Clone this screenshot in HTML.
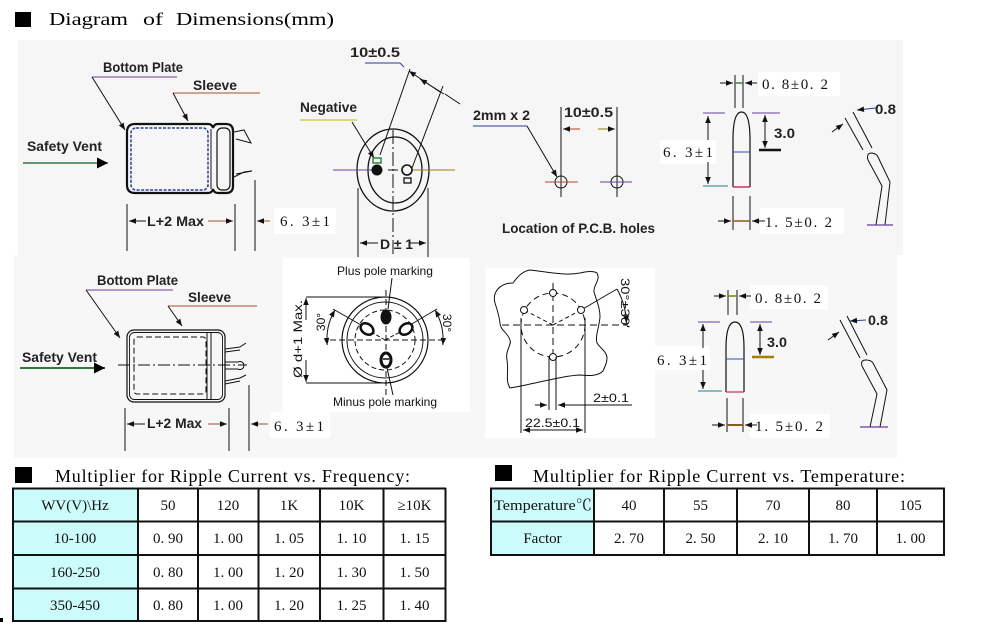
<!DOCTYPE html>
<html><head><meta charset="utf-8"><style>
html,body{margin:0;padding:0;background:#fff;}
svg{display:block}
.s{font-family:"Liberation Sans",Arial,sans-serif;font-weight:bold;font-size:14px;fill:#222}
.p{font-family:"Liberation Sans",Arial,sans-serif;font-size:12px;fill:#111}
.r{font-family:"Liberation Serif","Noto Serif CJK SC",serif;font-size:15px;fill:#111}
.t{font-family:"Liberation Serif","Noto Serif CJK SC",serif;font-size:15px;fill:#111;text-anchor:middle}
.h{font-family:"Liberation Serif","Noto Serif CJK SC",serif;font-size:18px;fill:#000}
</style></head><body>
<svg width="984" height="626" viewBox="0 0 984 626" xmlns="http://www.w3.org/2000/svg">
<defs>
<marker id="a" viewBox="0 0 10 10" refX="10" refY="5" markerWidth="8" markerHeight="7" orient="auto-start-reverse" markerUnits="userSpaceOnUse"><path d="M0,1L10,5L0,9z" fill="#111"/></marker>
<marker id="b" viewBox="0 0 10 10" refX="10" refY="5" markerWidth="11" markerHeight="11" orient="auto" markerUnits="userSpaceOnUse"><path d="M0,0L10,5L0,10z" fill="#000"/></marker>
</defs>

<!-- backgrounds -->
<rect x="18" y="40" width="885" height="215" fill="#f6f6f6"/>
<rect x="14" y="255" width="883" height="203" fill="#f7f7f7"/>
<rect x="283" y="258" width="187" height="154" fill="#fff"/>
<rect x="485" y="268" width="170" height="170" fill="#fff"/>
<rect x="274" y="208" width="62" height="26" fill="#fff"/>
<rect x="270" y="412" width="60" height="26" fill="#fff"/>
<rect x="758" y="72" width="82" height="24" fill="#fff"/>
<rect x="760" y="208" width="84" height="26" fill="#fff"/>
<rect x="660" y="140" width="56" height="24" fill="#fff"/>
<rect x="750" y="285" width="78" height="24" fill="#fff"/>
<rect x="750" y="414" width="80" height="24" fill="#fff"/>
<rect x="652" y="346" width="58" height="24" fill="#fff"/>

<!-- title -->
<rect x="15" y="12" width="16" height="15" fill="#000"/>
<text x="49" y="25" class="h" font-size="20" textLength="79" lengthAdjust="spacingAndGlyphs">Diagram</text>
<text x="143" y="25" class="h" font-size="20" textLength="20" lengthAdjust="spacingAndGlyphs">of</text>
<text x="176" y="25" class="h" font-size="20" textLength="158" lengthAdjust="spacingAndGlyphs">Dimensions(mm)</text>

<!-- ============ TOP LEFT CAPACITOR ============ -->
<g fill="none" stroke="#111">
<path d="M135,124 H208 Q212,124 213,128 Q214,124 218,124 H226 Q233,124 233,131 V186 Q233,193 226,193 H218 Q214,193 213,189 Q212,193 208,193 H135 Q127,193 127,185 V132 Q127,124 135,124 Z" stroke-width="2.2"/>
<rect x="131" y="128" width="77" height="62" rx="5" stroke="#2a3f90" stroke-width="1.5" stroke-dasharray="3 1.5"/>
<rect x="217" y="128" width="13" height="62" rx="5" stroke-width="1.2"/>
<line x1="211" y1="129" x2="211" y2="189" stroke-width="1"/>
<path d="M234,132 L244,130 L251,143 L236,139" stroke-width="1"/>
<path d="M234,177 L244,172 L252,171 L236,174" stroke-width="1"/>
<line x1="92" y1="77" x2="177" y2="77" stroke="#6a3d9a"/>
<line x1="92" y1="77" x2="125" y2="130" marker-end="url(#a)"/>
<line x1="173" y1="93" x2="260" y2="93" stroke="#a0522d"/>
<line x1="173" y1="93" x2="188" y2="121" marker-end="url(#a)"/>
<line x1="23" y1="163" x2="108" y2="163" stroke="#2a7a3a" stroke-width="1.5" marker-end="url(#b)"/>
<line x1="127" y1="204" x2="127" y2="251"/>
<line x1="235" y1="204" x2="235" y2="251"/>
<line x1="255" y1="180" x2="255" y2="251"/>
<line x1="146" y1="221" x2="129" y2="221" marker-end="url(#a)"/>
<line x1="208" y1="221" x2="233" y2="221" stroke="#a0522d" marker-end="url(#a)"/>
<line x1="270" y1="221" x2="257" y2="221" stroke="#a0522d" marker-end="url(#a)"/>
</g>
<text x="103" y="72" class="s" textLength="80" lengthAdjust="spacingAndGlyphs">Bottom Plate</text>
<text x="193" y="90" class="s" textLength="44" lengthAdjust="spacingAndGlyphs">Sleeve</text>
<text x="27" y="151" class="s" textLength="75" lengthAdjust="spacingAndGlyphs">Safety Vent</text>
<text x="147" y="226" class="s" textLength="57" lengthAdjust="spacingAndGlyphs">L+2 Max</text>
<text x="280" y="226" class="r" textLength="50" lengthAdjust="spacing">6. 3±1</text>

<!-- ============ TOP MIDDLE (end view) ============ -->
<g fill="none" stroke="#111">
<path d="M365,63 H400 L404,67" stroke="#2a3f90"/>
<line x1="440" y1="92" x2="409" y2="71" marker-end="url(#a)"/>
<line x1="460" y1="104" x2="445" y2="94"/>
<line x1="420" y1="79" x2="444" y2="94" marker-start="url(#a)"/>
<line x1="410" y1="69" x2="380" y2="155"/>
<line x1="443" y1="86" x2="412" y2="168"/>
<line x1="300" y1="120" x2="357" y2="120" stroke="#c8b400"/>
<line x1="352" y1="122" x2="374" y2="158" marker-end="url(#a)"/>
<ellipse cx="393" cy="170" rx="36" ry="41" stroke-width="1.3"/>
<ellipse cx="395" cy="170" rx="27" ry="33" stroke-width="1.3"/>
<line x1="333" y1="170" x2="372" y2="170" stroke="#6a3d9a"/>
<line x1="388" y1="170" x2="398" y2="170"/>
<line x1="412" y1="170" x2="455" y2="170" stroke="#a08000"/>
<line x1="393" y1="130" x2="393" y2="257" stroke-dasharray="14 3 2 3"/>
<circle cx="377" cy="170" r="5" fill="#111"/>
<rect x="373" y="158" width="8" height="5" stroke="#2a8a3a" stroke-width="1.5"/>
<circle cx="407" cy="170" r="5" stroke-width="1.6"/>
<rect x="404" y="178" width="7" height="5" stroke-width="1.3"/>
<line x1="358" y1="188" x2="358" y2="257"/>
<line x1="428" y1="188" x2="428" y2="257"/>
<line x1="378" y1="243" x2="360" y2="243" marker-end="url(#a)"/>
<line x1="410" y1="243" x2="426" y2="243" marker-end="url(#a)"/>
<!-- PCB holes -->
<path d="M473,126 H527" stroke="#2a3f90"/>
<line x1="527" y1="126" x2="557" y2="177" marker-end="url(#a)"/>
<line x1="561" y1="107" x2="561" y2="197"/>
<line x1="617" y1="107" x2="617" y2="197"/>
<line x1="580" y1="129" x2="563" y2="129" stroke="#c04020" marker-end="url(#a)"/>
<line x1="598" y1="129" x2="615" y2="129" stroke="#808000" marker-end="url(#a)"/>
<circle cx="561" cy="182" r="6"/>
<circle cx="617" cy="182" r="6"/>
<line x1="545" y1="182" x2="578" y2="182" stroke="#a05030"/>
<line x1="600" y1="182" x2="632" y2="182" stroke="#6a3d9a"/>
</g>
<text x="350" y="57" class="s" textLength="50" lengthAdjust="spacingAndGlyphs">10±0.5</text>
<text x="300" y="112" class="s" textLength="57" lengthAdjust="spacingAndGlyphs">Negative</text>
<text x="380" y="249" class="s" textLength="33" lengthAdjust="spacing">D±1</text>
<text x="473" y="120" class="s" textLength="57" lengthAdjust="spacingAndGlyphs">2mm x 2</text>
<text x="564" y="117" class="s" textLength="49" lengthAdjust="spacingAndGlyphs">10±0.5</text>
<text x="502" y="233" class="s" textLength="153" lengthAdjust="spacingAndGlyphs">Location of P.C.B. holes</text>

<!-- ============ TOP RIGHT (lead) ============ -->
<g fill="none" stroke="#111">
<line x1="735" y1="75" x2="735" y2="108"/>
<line x1="743" y1="75" x2="743" y2="108"/>
<line x1="720" y1="83" x2="733" y2="83" marker-end="url(#a)"/>
<line x1="757" y1="83" x2="745" y2="83" marker-end="url(#a)"/>
<line x1="735" y1="83" x2="743" y2="83" stroke="#2a8a3a" stroke-width="1.5"/>
<path d="M733,187 V140 Q733,112 741.5,112 Q750,112 750,140 V187" stroke-width="1.2"/>
<line x1="733" y1="152" x2="750" y2="152" stroke="#2a50c0"/>
<line x1="733" y1="187" x2="750" y2="187" stroke="#d03060" stroke-width="1.5"/>
<line x1="703" y1="113" x2="725" y2="113" stroke="#6a3d9a"/>
<line x1="752" y1="113" x2="780" y2="113" stroke="#6a3d9a"/>
<line x1="703" y1="186" x2="728" y2="186" stroke="#208080"/>
<line x1="708" y1="140" x2="708" y2="116" marker-end="url(#a)"/>
<line x1="708" y1="162" x2="708" y2="184" marker-end="url(#a)"/>
<line x1="765" y1="132" x2="765" y2="115" marker-end="url(#a)"/>
<line x1="765" y1="132" x2="765" y2="148" marker-end="url(#a)"/>
<line x1="759" y1="150" x2="781" y2="150" stroke-width="2.5"/>
<line x1="733" y1="196" x2="733" y2="230"/>
<line x1="750" y1="196" x2="750" y2="230"/>
<line x1="718" y1="221" x2="731" y2="221" marker-end="url(#a)"/>
<line x1="765" y1="221" x2="752" y2="221" marker-end="url(#a)"/>
<line x1="733" y1="221" x2="750" y2="221" stroke="#8a5a20" stroke-width="1.5"/>
<!-- bent lead -->
<line x1="845" y1="118" x2="863" y2="150"/>
<line x1="853" y1="112" x2="872" y2="148"/>
<path d="M868,160 Q866,153 872,153 Q877,154 878,157 L890,182 L885,225"/>
<path d="M868,160 L882,186 L876,225"/>
<line x1="867" y1="225" x2="893" y2="225" stroke="#6a3d9a" stroke-width="1.3"/>
<line x1="876" y1="108" x2="857" y2="110" stroke="#2a3f90" marker-end="url(#a)"/>
<line x1="832" y1="132" x2="843" y2="124" marker-end="url(#a)"/>
</g>
<text x="762" y="89" class="r" textLength="66" lengthAdjust="spacing">0. 8±0. 2</text>
<text x="774" y="138" class="s" textLength="21" lengthAdjust="spacingAndGlyphs">3.0</text>
<text x="663" y="157" class="r" textLength="50" lengthAdjust="spacing">6. 3±1</text>
<text x="765" y="227" class="r" textLength="67" lengthAdjust="spacing">1. 5±0. 2</text>
<text x="875" y="114" class="s" textLength="21" lengthAdjust="spacingAndGlyphs">0.8</text>

<!-- ============ BOTTOM LEFT CAPACITOR ============ -->
<g fill="none" stroke="#111">
<rect x="127" y="330" width="98" height="72" rx="7" stroke-width="1.2"/>
<rect x="129.5" y="332.5" width="93" height="67" rx="5" stroke-width="0.9"/>
<line x1="207" y1="332" x2="207" y2="400"/>
<line x1="211" y1="332" x2="211" y2="400"/>
<rect x="134" y="337" width="72" height="57" rx="3" stroke-dasharray="6 3"/>
<line x1="118" y1="365" x2="247" y2="365" stroke-dasharray="12 3 2 3"/>
<path d="M225,349 L240,347 L246,343 M225,352 L240,350"/>
<path d="M225,362 H238 A4,4 0 1 1 238,369 H225"/>
<path d="M225,381 L240,378 L246,375 M225,384 L240,381"/>
<line x1="86" y1="290" x2="173" y2="290" stroke="#6a3d9a"/>
<line x1="86" y1="290" x2="120" y2="338" marker-end="url(#a)"/>
<line x1="168" y1="306" x2="257" y2="306" stroke="#a0522d"/>
<line x1="168" y1="306" x2="182" y2="326" marker-end="url(#a)"/>
<line x1="20" y1="368" x2="105" y2="368" stroke="#2a7a3a" stroke-width="2" marker-end="url(#b)"/>
<line x1="125" y1="408" x2="125" y2="451"/>
<line x1="229" y1="408" x2="229" y2="451"/>
<line x1="249" y1="385" x2="249" y2="451"/>
<line x1="145" y1="424" x2="127" y2="424" marker-end="url(#a)"/>
<line x1="208" y1="424" x2="227" y2="424" stroke="#a0522d" marker-end="url(#a)"/>
<line x1="268" y1="424" x2="251" y2="424" stroke="#a0522d" marker-end="url(#a)"/>
</g>
<text x="97" y="285" class="s" textLength="81" lengthAdjust="spacingAndGlyphs">Bottom Plate</text>
<text x="188" y="302" class="s" textLength="43" lengthAdjust="spacingAndGlyphs">Sleeve</text>
<text x="22" y="362" class="s" textLength="75" lengthAdjust="spacingAndGlyphs">Safety Vent</text>
<text x="147" y="428" class="s" textLength="55" lengthAdjust="spacingAndGlyphs">L+2 Max</text>
<text x="274" y="431" class="r" textLength="50" lengthAdjust="spacing">6. 3±1</text>

<!-- ============ POLE MARKING ============ -->
<g fill="none" stroke="#111">
<circle cx="385" cy="340" r="43" stroke-width="1.2"/>
<circle cx="385" cy="340" r="38" stroke-width="1"/>
<circle cx="385" cy="340" r="30" stroke-dasharray="5 3"/>
<line x1="386" y1="290" x2="386" y2="397" stroke-dasharray="6 3"/>
<line x1="330" y1="340" x2="442" y2="340" stroke-dasharray="6 3"/>
<line x1="385" y1="340" x2="366" y2="329" stroke-dasharray="4 2"/>
<line x1="385" y1="340" x2="406" y2="329" stroke-dasharray="4 2"/>
<line x1="333" y1="309" x2="361" y2="325"/>
<line x1="437" y1="309" x2="410" y2="325"/>
<line x1="392" y1="278" x2="388" y2="309"/>
<line x1="387" y1="368" x2="393" y2="395"/>
<line x1="306" y1="297" x2="386" y2="297"/>
<line x1="306" y1="383" x2="386" y2="383"/>
<line x1="306" y1="320" x2="306" y2="298" marker-end="url(#a)"/>
<line x1="306" y1="360" x2="306" y2="382" marker-end="url(#a)"/>
<path d="M335,310 A58,58 0 0 0 327.2,345" marker-start="url(#a)" marker-end="url(#a)"/>
<path d="M435,310 A58,58 0 0 1 442.8,345" marker-start="url(#a)" marker-end="url(#a)"/>
<ellipse cx="386" cy="317" rx="5" ry="7" fill="#111"/>
<ellipse cx="367" cy="329" rx="7" ry="5" transform="rotate(35 367 329)" stroke-width="2.5" fill="#fff"/>
<ellipse cx="406" cy="329" rx="7" ry="5" transform="rotate(-35 406 329)" stroke-width="2.5" fill="#fff"/>
<ellipse cx="386" cy="360" rx="5" ry="7" stroke-width="3" fill="#fff"/>
<line x1="383" y1="359" x2="389" y2="359" stroke-width="1.5"/>
</g>
<text x="337" y="275" class="p" textLength="96" lengthAdjust="spacingAndGlyphs">Plus pole marking</text>
<text x="333" y="406" class="p" textLength="104" lengthAdjust="spacingAndGlyphs">Minus pole marking</text>
<text transform="translate(302,339) rotate(-90)" class="p" font-size="14" text-anchor="middle" textLength="78" lengthAdjust="spacingAndGlyphs">Ø d+1 Max.</text>
<text transform="translate(325,322) rotate(-90)" class="p" font-size="14" text-anchor="middle">30°</text>
<text transform="translate(443,323) rotate(90)" class="p" font-size="14" text-anchor="middle">30°</text>

<!-- ============ PCB LAYOUT ============ -->
<g fill="none" stroke="#111">
<path d="M495,303 C492,292 500,283 513,283 C518,276 523,271 530,270 C548,272 565,276 580,273 C588,271 594,271 597,273 C601,280 593,285 594,292 C597,302 600,308 600,317 C599,328 595,336 597,343 C601,349 607,352 607,358 C607,364 604,368 603,371 C598,376 590,376 580,375 C560,376 535,384 510,388 C505,380 509,372 507,360 C505,350 512,345 510,340 C508,333 500,330 500,323 C499,315 497,309 495,303 Z"/>
<circle cx="553" cy="325" r="32" stroke-dasharray="6 4"/>
<line x1="502" y1="325" x2="628" y2="325" stroke-dasharray="7 4"/>
<line x1="553" y1="283" x2="553" y2="360" stroke-dasharray="7 4"/>
<line x1="553" y1="325" x2="524" y2="310" stroke-dasharray="4 3"/>
<line x1="553" y1="325" x2="581" y2="310" stroke-dasharray="4 3"/>
<line x1="581" y1="310" x2="617" y2="289"/>
<path d="M617,289 A73.4,73.4 0 0 1 626.4,323" marker-end="url(#a)"/>
<circle cx="553" cy="293" r="3.5" fill="#fff"/>
<circle cx="524" cy="310" r="3.5" fill="#fff"/>
<circle cx="581" cy="310" r="3.5" fill="#fff"/>
<circle cx="553" cy="357" r="3.5" fill="#fff"/>
<line x1="521" y1="318" x2="521" y2="433"/>
<line x1="585" y1="318" x2="585" y2="433"/>
<line x1="549" y1="357" x2="549" y2="410"/>
<line x1="556" y1="357" x2="556" y2="410"/>
<line x1="535" y1="405" x2="547" y2="405" marker-end="url(#a)"/>
<line x1="632" y1="405" x2="558" y2="405" marker-end="url(#a)"/>
<line x1="535" y1="430" x2="523" y2="430" marker-end="url(#a)"/>
<line x1="535" y1="430" x2="583" y2="430" marker-end="url(#a)"/>
</g>
<text transform="translate(621,303) rotate(90)" class="p" font-size="14" text-anchor="middle" textLength="50" lengthAdjust="spacingAndGlyphs">30°±30'</text>
<text x="593" y="402" class="p" font-size="14" textLength="36" lengthAdjust="spacingAndGlyphs">2±0.1</text>
<text x="525" y="427" class="p" font-size="14" textLength="55" lengthAdjust="spacingAndGlyphs">22.5±0.1</text>

<!-- ============ BOTTOM RIGHT (lead) ============ -->
<g fill="none" stroke="#111">
<line x1="728" y1="290" x2="728" y2="315"/>
<line x1="737" y1="290" x2="737" y2="315"/>
<line x1="714" y1="296" x2="726" y2="296" marker-end="url(#a)"/>
<line x1="751" y1="296" x2="739" y2="296" marker-end="url(#a)"/>
<line x1="728" y1="296" x2="737" y2="296" stroke="#808000" stroke-width="1.5"/>
<path d="M726,392 V348 Q726,322 735,322 Q744,322 744,348 V392" stroke-width="1.2"/>
<line x1="726" y1="359" x2="744" y2="359" stroke="#2a50c0"/>
<line x1="726" y1="392" x2="744" y2="392" stroke="#d03060" stroke-width="1.3"/>
<line x1="698" y1="322" x2="720" y2="322" stroke="#6a3d9a"/>
<line x1="750" y1="322" x2="772" y2="322" stroke="#6a3d9a"/>
<line x1="698" y1="391" x2="722" y2="391" stroke="#208080"/>
<line x1="703" y1="348" x2="703" y2="324" marker-end="url(#a)"/>
<line x1="703" y1="370" x2="703" y2="389" marker-end="url(#a)"/>
<line x1="760" y1="340" x2="760" y2="324" marker-end="url(#a)"/>
<line x1="760" y1="340" x2="760" y2="355" marker-end="url(#a)"/>
<line x1="752" y1="357" x2="774" y2="357" stroke="#a08000" stroke-width="2.5"/>
<line x1="727" y1="398" x2="727" y2="432"/>
<line x1="743" y1="398" x2="743" y2="432"/>
<line x1="712" y1="425" x2="725" y2="425" marker-end="url(#a)"/>
<line x1="757" y1="425" x2="745" y2="425" marker-end="url(#a)"/>
<line x1="727" y1="425" x2="743" y2="425" stroke="#8a5a20" stroke-width="2"/>
<!-- bent lead -->
<line x1="840" y1="320" x2="860" y2="358"/>
<line x1="847" y1="316" x2="867" y2="355"/>
<path d="M862,366 Q860,360 866,360 Q871,360 873,363 L887,390 L880,427"/>
<path d="M862,366 L877,394 L870,427"/>
<line x1="860" y1="427" x2="888" y2="427" stroke="#6a3d9a" stroke-width="1.3"/>
<line x1="866" y1="320" x2="850" y2="321" stroke="#2a3f90" marker-end="url(#a)"/>
<line x1="828" y1="340" x2="839" y2="332" marker-end="url(#a)"/>
</g>
<text x="755" y="303" class="r" textLength="66" lengthAdjust="spacing">0. 8±0. 2</text>
<text x="767" y="347" class="s" textLength="20" lengthAdjust="spacingAndGlyphs">3.0</text>
<text x="657" y="365" class="r" textLength="50" lengthAdjust="spacing">6. 3±1</text>
<text x="755" y="431" class="r" textLength="68" lengthAdjust="spacing">1. 5±0. 2</text>
<text x="868" y="325" class="s" textLength="20" lengthAdjust="spacingAndGlyphs">0.8</text>

<!-- ============ TABLE 1 ============ -->
<rect x="15" y="467" width="17" height="16" fill="#000"/>
<text x="55" y="482" class="h" textLength="355" lengthAdjust="spacing">Multiplier for Ripple Current vs. Frequency:</text>
<rect x="12" y="488" width="126" height="134" fill="#ccfbfb"/>
<g stroke="#111" stroke-width="2">
<line x1="12" y1="488.5" x2="446" y2="488.5"/>
<line x1="12" y1="521.5" x2="446" y2="521.5"/>
<line x1="12" y1="555" x2="446" y2="555"/>
<line x1="12" y1="588.5" x2="446" y2="588.5"/>
<line x1="12" y1="621" x2="446" y2="621"/>
<line x1="13" y1="488" x2="13" y2="622"/>
<line x1="138" y1="488" x2="138" y2="622"/>
<line x1="198" y1="488" x2="198" y2="622"/>
<line x1="258.5" y1="488" x2="258.5" y2="622"/>
<line x1="320" y1="488" x2="320" y2="622"/>
<line x1="383.5" y1="488" x2="383.5" y2="622"/>
<line x1="445.5" y1="488" x2="445.5" y2="622"/>
</g>
<g class="t">
<text x="75" y="510" class="t">WV(V)\Hz</text>
<text x="168" y="510" class="t">50</text>
<text x="228" y="510" class="t">120</text>
<text x="289" y="510" class="t">1K</text>
<text x="351.5" y="510" class="t">10K</text>
<text x="414.5" y="510" class="t">≥10K</text>
<text x="75" y="543" class="t">10-100</text>
<text x="168" y="543" class="t">0. 90</text>
<text x="228" y="543" class="t">1. 00</text>
<text x="289" y="543" class="t">1. 05</text>
<text x="351.5" y="543" class="t">1. 10</text>
<text x="414.5" y="543" class="t">1. 15</text>
<text x="75" y="577" class="t">160-250</text>
<text x="168" y="577" class="t">0. 80</text>
<text x="228" y="577" class="t">1. 00</text>
<text x="289" y="577" class="t">1. 20</text>
<text x="351.5" y="577" class="t">1. 30</text>
<text x="414.5" y="577" class="t">1. 50</text>
<text x="75" y="610" class="t">350-450</text>
<text x="168" y="610" class="t">0. 80</text>
<text x="228" y="610" class="t">1. 00</text>
<text x="289" y="610" class="t">1. 20</text>
<text x="351.5" y="610" class="t">1. 25</text>
<text x="414.5" y="610" class="t">1. 40</text>
</g>
<rect x="0" y="618" width="3" height="4" fill="#000"/>

<!-- ============ TABLE 2 ============ -->
<rect x="495" y="465" width="17" height="16" fill="#000"/>
<text x="533" y="482" class="h" textLength="372" lengthAdjust="spacing">Multiplier for Ripple Current vs. Temperature:</text>
<rect x="491" y="488" width="103" height="67" fill="#ccfbfb"/>
<g stroke="#111" stroke-width="2">
<line x1="490" y1="488.5" x2="945" y2="488.5"/>
<line x1="490" y1="521.5" x2="945" y2="521.5"/>
<line x1="490" y1="555" x2="945" y2="555"/>
<line x1="491" y1="488" x2="491" y2="556"/>
<line x1="594" y1="488" x2="594" y2="556"/>
<line x1="664" y1="488" x2="664" y2="556"/>
<line x1="737" y1="488" x2="737" y2="556"/>
<line x1="809" y1="488" x2="809" y2="556"/>
<line x1="877" y1="488" x2="877" y2="556"/>
<line x1="944" y1="488" x2="944" y2="556"/>
</g>
<text x="494" y="510" class="r" textLength="98" lengthAdjust="spacingAndGlyphs">Temperature℃</text>
<text x="629" y="510" class="t">40</text>
<text x="700.5" y="510" class="t">55</text>
<text x="773" y="510" class="t">70</text>
<text x="843" y="510" class="t">80</text>
<text x="910.5" y="510" class="t">105</text>
<text x="542.5" y="543" class="t">Factor</text>
<text x="629" y="543" class="t">2. 70</text>
<text x="700.5" y="543" class="t">2. 50</text>
<text x="773" y="543" class="t">2. 10</text>
<text x="843" y="543" class="t">1. 70</text>
<text x="910.5" y="543" class="t">1. 00</text>
</svg>
</body></html>
